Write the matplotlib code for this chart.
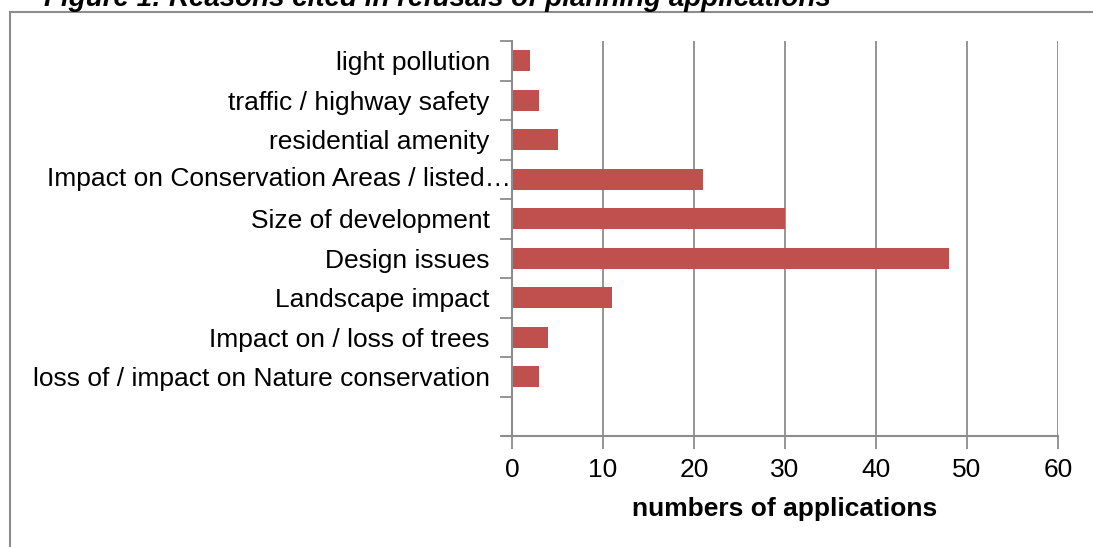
import numpy as np
import matplotlib.pyplot as plt
from matplotlib.patches import Rectangle

# Data (top to bottom), last slot is empty in the original chart
categories = ["light pollution", "traffic / highway safety", "residential amenity",
              "Impact on Conservation Areas / listed\u2026", "Size of development",
              "Design issues", "Landscape impact", "Impact on / loss of trees",
              "loss of / impact on Nature conservation", ""]
values = [2, 3, 5, 21, 30, 48, 11, 4, 3, 0]
xticks = [0, 10, 20, 30, 40, 50, 60]

plt.rcParams['font.family'] = ['Liberation Sans', 'DejaVu Sans']

W, H = 1093, 547
fig = plt.figure(figsize=(W / 100, H / 100), dpi=100)
ax = fig.add_axes([512 / W, 1 - 436 / H, (1058 - 512) / W, (436 - 41) / H])

grey = '#8c8c8c'
bar_color = '#C0504D'
fs = 19

pos = np.arange(len(categories))
ax.barh(pos, values, height=0.53, color=bar_color, zorder=3)

ax.set_xlim(0, 60)
ax.set_ylim(len(categories) - 0.5, -0.5)

# vertical gridlines
ax.set_xticks(xticks)
ax.xaxis.grid(True, color=grey, linewidth=1.3, zorder=0)
ax.tick_params(axis='x', length=9, width=1.3, color=grey, labelsize=fs, pad=6.5)

# y ticks at the slot boundaries, labels centred on the bars
ax.set_yticks(np.arange(len(categories) + 1) - 0.5)
ax.set_yticklabels([])
ax.tick_params(axis='y', length=9, width=1.3, color=grey)
ax.set_yticks(pos, minor=True)
ax.tick_params(axis='y', which='minor', length=0, pad=16, labelsize=fs)
labels = [c if not c.startswith("Impact on Conservation") else "" for c in categories]
ax.set_yticklabels(labels, minor=True)
# the truncated label runs into the axis, as in the original
for i, c in enumerate(categories):
    if c.startswith("Impact on Conservation"):
        ax.text(-0.002, i, c, transform=ax.get_yaxis_transform(), ha='right',
                va='center', fontsize=fs)

for s in ['top', 'right']:
    ax.spines[s].set_visible(False)
for s in ['left', 'bottom']:
    ax.spines[s].set_color(grey)
    ax.spines[s].set_linewidth(1.5)
    ax.spines[s].set_zorder(4)
ax.spines['bottom'].set_bounds(-0.017 * 60, 60)
ax.spines['bottom'].set_clip_on(False)

ax.set_xlabel("numbers of applications", fontsize=fs, fontweight='bold', labelpad=11)

# chart border
fig.patches.append(Rectangle((10 / W, -0.1), 1.2, 1 - 12 / H + 0.1, transform=fig.transFigure,
                             fill=False, edgecolor=grey, linewidth=1.5))

fig.text(44 / W, 1 - 6 / H, "Figure 1: Reasons cited in refusals of planning applications",
         fontsize=20, fontweight='bold', style='italic', ha='left', va='baseline')

fig.savefig('out.png', dpi=100)
